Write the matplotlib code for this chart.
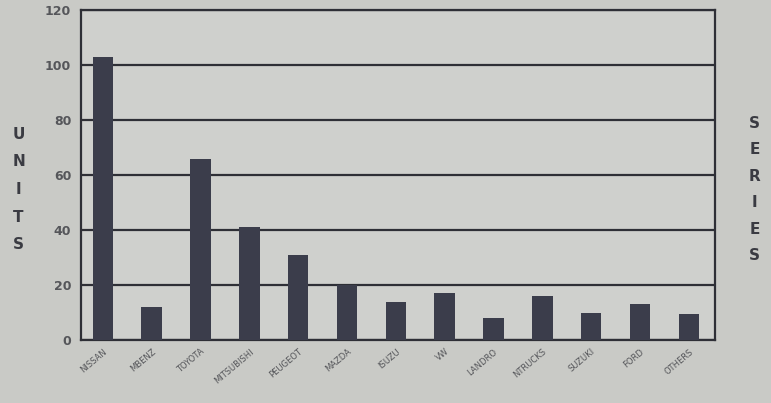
import numpy as np
import matplotlib.pyplot as plt

brands = ['NISSAN', 'MBENZ', 'TOYOTA', 'MITSUBISHI', 'PEUGEOT', 'MAZDA', 'ISUZU',
          'VW', 'LANDRO', 'NTRUCKS', 'SUZUKI', 'FORD', 'OTHERS']
units = [103, 12, 66, 41, 31, 20, 14, 17, 8, 16, 10, 13, 9.5]
yticks = [0, 20, 40, 60, 80, 100, 120]

paper = '#c9cac6'
ink = '#2e2f36'

fig = plt.figure(figsize=(7.71, 4.03), dpi=100)
fig.patch.set_facecolor(paper)
ax = fig.add_axes([0.105, 0.156, 0.822, 0.819])
ax.set_facecolor('#cfd0cd')

x = np.arange(len(brands))
ax.bar(x, units, width=0.42, color='#3b3d4b', zorder=3)

ax.set_ylim(0, 120)
ax.set_xlim(-0.45, len(brands) - 0.47)
ax.set_yticks(yticks)
ax.set_yticklabels([str(v) for v in yticks], fontsize=9, fontweight='bold', color='#55565a')
ax.yaxis.grid(True, color=ink, linewidth=1.6, zorder=1)
ax.tick_params(axis='y', length=0, pad=7)
ax.tick_params(axis='x', length=0, pad=5)
ax.set_xticks(x)
ax.set_xticklabels(brands, rotation=40, ha='right', rotation_mode='anchor',
                   fontsize=6, color='#55565a')
for s in ax.spines.values():
  s.set_color(ink)
  s.set_linewidth(1.6)

# vertical letter labels at both sides
fig.text(0.024, 0.53, '\n'.join('UNITS'), fontsize=11, fontweight='bold',
         color='#3a3b42', ha='center', va='center', linespacing=2.05)
fig.text(0.979, 0.53, '\n'.join('SERIES'), fontsize=11, fontweight='bold',
         color='#3a3b42', ha='center', va='center', linespacing=1.95)

fig.savefig('out.png', dpi=100, facecolor=paper)
